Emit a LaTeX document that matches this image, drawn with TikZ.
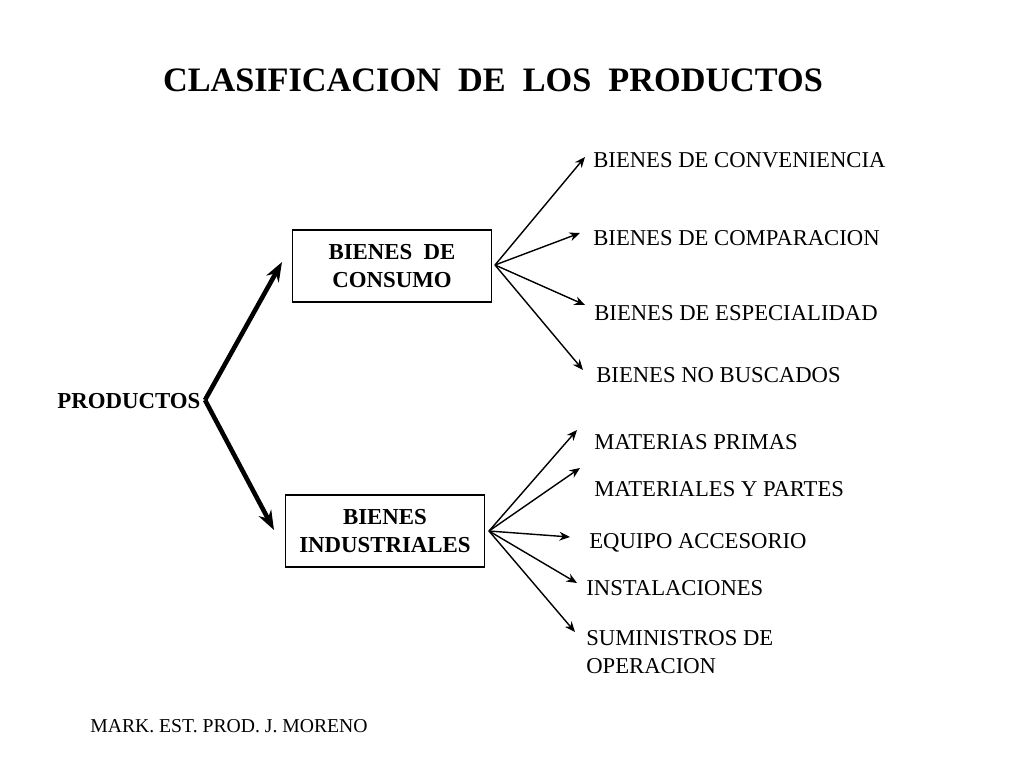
\documentclass[tikz,border=0pt]{standalone}
\usepackage{fontspec}
\setmainfont{Liberation Serif}
\usetikzlibrary{arrows.meta}
\tikzset{
  caja/.style={draw, thick, align=center, font=\bfseries\fontsize{13}{15.5}\selectfont, minimum width=3.98cm, minimum height=1.44cm, inner sep=1pt},
  hoja/.style={anchor=west, align=left, inner sep=0pt, font=\fontsize{12.9}{16}\selectfont},
  rama/.style={-{Stealth[length=6pt,width=5pt]}, thick},
  grueso/.style={-{Stealth[length=11pt,width=8pt]}, line width=2.6pt}
}
\begin{document}
\begin{tikzpicture}[x=0.02cm,y=-0.02cm]
            \useasboundingbox (0,0) rectangle (1024,768);
            \node (titulo) at (493,80) {\bfseries\fontsize{19.5}{22}\selectfont CLASIFICACION~ DE~ LOS~ PRODUCTOS};
            \node[hoja, font=\bfseries\fontsize{13}{15}\selectfont] (prod) at (57,401) {PRODUCTOS};
            \node[caja] (consumo) at (392,266) {BIENES~ DE\\CONSUMO};
            \node[caja] (indus) at (385,531) {BIENES\\INDUSTRIALES};

            \coordinate (vertice) at (205,400);
            \draw[grueso] (vertice) -- (282,262);
            \draw[grueso] (vertice) -- (274,530);

            % bienes de consumo
            \node[hoja] (conv) at (593,160) {BIENES DE CONVENIENCIA};
            \node[hoja] (comp) at (593,238) {BIENES DE COMPARACION};
            \node[hoja] (espe) at (594,313) {BIENES DE ESPECIALIDAD};
            \node[hoja] (nobus) at (596,375) {BIENES NO BUSCADOS};
            \coordinate (c0) at (495,265);
            \coordinate (c1) at (585,157);
            \coordinate (c2) at (580,233);
            \coordinate (c3) at (585,305);
            \coordinate (c4) at (583,370);
            \foreach \i in {1,...,4}
              \draw[rama] (c0) -- (c\i);

            % bienes industriales
            \node[hoja] (mat) at (594,442) {MATERIAS PRIMAS};
            \node[hoja] (part) at (594,489) {MATERIALES Y PARTES};
            \node[hoja] (equi) at (589,543) {EQUIPO ACCESORIO};
            \node[hoja] (inst) at (586,588) {INSTALACIONES};
            \node[hoja] (sumi) at (586,652) {SUMINISTROS DE\\OPERACION};
            \coordinate (i0) at (489,531);
            \coordinate (i1) at (577,430);
            \coordinate (i2) at (580,468);
            \coordinate (i3) at (570,537);
            \coordinate (i4) at (577,583);
            \coordinate (i5) at (575,632);
            \foreach \i in {1,...,5}
              \draw[rama] (i0) -- (i\i);

            \node[hoja, font=\fontsize{11.2}{13}\selectfont] (firma) at (90,726) {MARK. EST. PROD. J. MORENO};
        \end{tikzpicture}
\end{document}
